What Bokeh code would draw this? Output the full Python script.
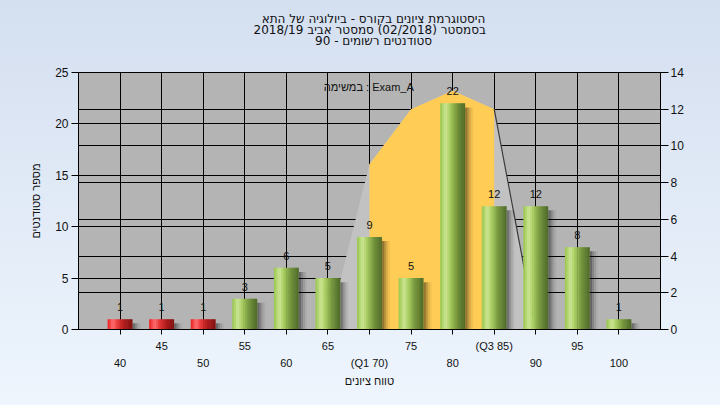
import numpy as np
from bokeh.plotting import figure
from bokeh.layouts import column
from bokeh.models import (Range1d, LinearAxis, Grid, FixedTicker, Label)
from bokeh.embed import file_html
from bokeh.resources import INLINE
from bokeh.core.properties import value

# ---------------- data ----------------
grades = [40, 45, 50, 55, 60, 65, 70, 75, 80, 85, 90, 95, 100]
counts = [1, 1, 1, 3, 6, 5, 9, 5, 22, 12, 12, 8, 1]
grade_labels = ["40", "45", "50", "55", "60", "65", "(Q1 70)", "75", "80",
                "(Q3 85)", "90", "95", "100"]
pass_grade = 55
curve_x = [65, 70, 75, 80, 85, 90]
curve_y = [0, 9, 12, 13, 12, 0]
q1, q3 = 70, 85
left_ticks = [0, 5, 10, 15, 20, 25]
right_ticks = [0, 2, 4, 6, 8, 10, 12, 14]
title_lines = ["היסטוגרמת ציונים בקורס - ביולוגיה של התא",
               "בסמסטר  (02/2018)  סמסטר אביב 2018/19",
               "סטודנטים רשומים - 90"]
y_title = "מספר סטודנטים"
x_title = "טווח ציונים"
task_label = "במשימה : Exam_A"

FONT = "Liberation Sans"
TFONT = "DejaVu Sans"
TXT = "#111111"
BG = "linear-gradient(#d4dff0, #eef5fd)"
TITLE_H = 50

# ---------------- title strip ----------------
tf = figure(width=720, height=TITLE_H, output_backend="svg", toolbar_location=None,
            x_range=Range1d(0, 720), y_range=Range1d(0, TITLE_H),
            x_axis_location=None, y_axis_location=None, min_border=0)
tf.outline_line_color = None
tf.background_fill_color = None
tf.border_fill_color = None
tf.grid.visible = False
tf.text(x=[365, 365, 365], y=[TITLE_H - 18.8, TITLE_H - 29.5, TITLE_H - 40.5],
        text=title_lines, text_align="center", text_baseline="middle",
        text_font=value(TFONT), text_font_size="12px", text_color=TXT)

# ---------------- main figure ----------------
p = figure(width=720, height=405 - TITLE_H, output_backend="svg", toolbar_location=None,
           x_range=Range1d(35, 105), y_range=Range1d(0, 25),
           min_border_left=78, min_border_right=60, min_border_top=72 - TITLE_H,
           min_border_bottom=76)
p.extra_y_ranges = {"right": Range1d(0, 14)}
p.background_fill_color = "#b4b4b4"
p.border_fill_color = None
p.outline_line_color = "black"
p.outline_line_width = 1

xa = p.xaxis[0]
xa.ticker = FixedTicker(ticks=grades)
xa.major_label_overrides = {g: (lab if i % 2 == 1 else "") for i, (g, lab) in enumerate(zip(grades, grade_labels))}
xa.major_tick_out = 5
xa.major_tick_in = 0
xa.minor_tick_line_color = None
xa.major_label_standoff = 5
xa.axis_line_color = "black"
xa.major_tick_line_color = "black"
xa.major_label_text_font = FONT
xa.major_label_text_font_size = "11px"
xa.major_label_text_color = TXT

xa2 = LinearAxis(ticker=FixedTicker(ticks=grades))
xa2.major_label_overrides = {g: (lab if i % 2 == 0 else "") for i, (g, lab) in enumerate(zip(grades, grade_labels))}
xa2.axis_line_color = None
xa2.major_tick_line_color = None
xa2.minor_tick_line_color = None
xa2.major_tick_out = 0
xa2.major_tick_in = 0
xa2.major_label_standoff = 2
xa2.major_label_text_font = FONT
xa2.major_label_text_font_size = "11px"
xa2.major_label_text_color = TXT
xa2.axis_label = x_title
xa2.axis_label_standoff = 3
xa2.axis_label_text_font = FONT
xa2.axis_label_text_font_size = "11px"
xa2.axis_label_text_font_style = "normal"
xa2.axis_label_text_color = TXT
p.add_layout(xa2, "below")

ya = p.yaxis[0]
ya.ticker = FixedTicker(ticks=left_ticks)
ya.major_tick_out = 7
ya.major_tick_in = 0
ya.minor_tick_line_color = None
ya.major_label_standoff = 3
ya.axis_line_color = "black"
ya.major_label_text_font = FONT
ya.major_label_text_font_size = "12px"
ya.major_label_text_color = TXT
ya.axis_label = y_title
ya.axis_label_standoff = 10
ya.axis_label_text_font = FONT
ya.axis_label_text_font_size = "11px"
ya.axis_label_text_font_style = "normal"
ya.axis_label_text_color = TXT

ra = LinearAxis(y_range_name="right", ticker=FixedTicker(ticks=right_ticks))
ra.major_tick_out = 8
ra.major_tick_in = 0
ra.minor_tick_line_color = None
ra.major_label_standoff = 2
ra.axis_line_color = "black"
ra.major_label_text_font = FONT
ra.major_label_text_font_size = "12px"
ra.major_label_text_color = TXT
p.add_layout(ra, "right")

p.xgrid.grid_line_color = "black"
p.ygrid.grid_line_color = "black"
p.add_layout(Grid(dimension=1, ticker=ra.ticker, y_range_name="right",
                  grid_line_color="black"))

# ---------------- curve areas ----------------
p.patch(curve_x, curve_y, y_range_name="right", fill_color="#c2c2c2", line_color=None)
iqr_x = [q1] + [x for x in curve_x if q1 <= x <= q3] + [q3]
iqr_y = [0] + [y for x, y in zip(curve_x, curve_y) if q1 <= x <= q3] + [0]
p.patch(iqr_x, iqr_y, y_range_name="right", fill_color="#ffcc55", line_color=None)
p.line(curve_x[-2:], curve_y[-2:], y_range_name="right", line_color="#3a3a3a", line_width=1.2)

# ---------------- bars (cylinders) ----------------
bar_w = 3.0
for off, a in [(0.0, 0.42), (0.24, 0.26), (0.48, 0.13), (0.72, 0.05)]:
    p.quad(left=[g + bar_w / 2 + off for g in grades],
           right=[g + bar_w / 2 + off + 0.26 for g in grades],
           top=[c - 0.4 for c in counts], bottom=[0] * len(grades),
           fill_color="black", fill_alpha=a, line_color=None)

green_stops = [(0.0, (150, 196, 72)), (0.22, (204, 230, 150)), (0.38, (172, 208, 100)),
               (0.65, (118, 152, 62)), (1.0, (78, 104, 40))]
red_stops = [(0.0, (232, 28, 28)), (0.22, (255, 112, 112)), (0.38, (236, 60, 60)),
             (0.65, (178, 28, 28)), (1.0, (128, 18, 18))]


def grad(stops, t):
    ts = [s[0] for s in stops]
    rgb = [int(round(np.interp(t, ts, [s[1][k] for s in stops]))) for k in range(3)]
    return "#%02x%02x%02x" % tuple(rgb)


N = 14
s = bar_w / N
for i in range(N):
    t = (i + 0.5) / N
    cols = [grad(red_stops if g < pass_grade else green_stops, t) for g in grades]
    extra = 0.06 if i < N - 1 else 0.0
    p.quad(left=[g - bar_w / 2 + i * s for g in grades],
           right=[g - bar_w / 2 + (i + 1) * s + extra for g in grades],
           top=counts, bottom=[0] * len(grades),
           fill_color=cols, line_color=None)

p.text(x=grades, y=counts, text=[str(c) for c in counts], text_align="center",
       text_baseline="middle", y_offset=-12, text_font=value(FONT),
       text_font_size="11px", text_color=TXT)

p.add_layout(Label(x=64.5, y=23.6, text=task_label, text_baseline="middle",
                   text_align="left", text_font=FONT, text_font_size="11px",
                   text_color=TXT))

layout = column(tf, p, spacing=0)
layout.styles = {"background": BG}
open("out.html", "w").write(file_html(layout, INLINE))
